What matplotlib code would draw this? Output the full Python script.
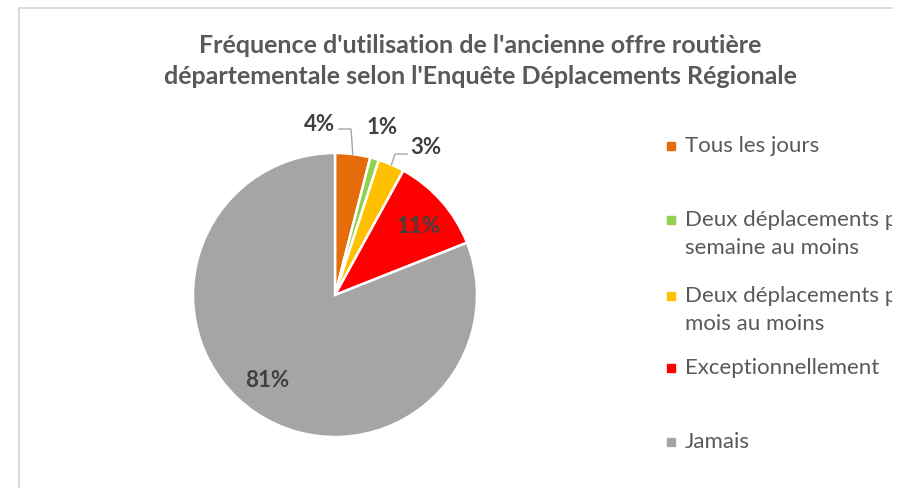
import numpy as np
import matplotlib
matplotlib.use("Agg")
import matplotlib.pyplot as plt
from matplotlib.lines import Line2D

plt.rcParams['font.family'] = ['Lato', 'DejaVu Sans']

# survey shares (%)
categories = ["Tous les jours",
              "Deux déplacements par\nsemaine au moins",
              "Deux déplacements par\nmois au moins",
              "Exceptionnellement",
              "Jamais"]
shares = [4, 1, 3, 11, 81]
colors = ["#E46C0A", "#92D050", "#FFC000", "#FF0000", "#A5A5A5"]
title = ("Fréquence d'utilisation de l'ancienne offre routière\n"
         "départementale selon l'Enquête Déplacements Régionale")

W, H = 906, 488
fig = plt.figure(figsize=(W / 100, H / 100), dpi=100)

# chart frame (left and top edges only, the rest is cropped)
fig.add_artist(Line2D([19 / W, 19 / W], [0, 1 - 8 / H], color="#D9D9D9", lw=1.3))
fig.add_artist(Line2D([19 / W, 892 / W], [1 - 8 / H, 1 - 8 / H], color="#D9D9D9", lw=1.3))

fig.text(480 / W, 1 - 61 / H, title, ha="center", va="center", fontsize=18,
         fontweight="bold", color="#595959", linespacing=1.4)

# pie
cx, cy, r = 335, 295, 142
ax = fig.add_axes([(cx - r) / W, (H - cy - r) / H, 2 * r / W, 2 * r / H])
wedges, _ = ax.pie(shares, colors=colors, startangle=90, counterclock=False,
                   radius=1, wedgeprops=dict(edgecolor="white", linewidth=1.8))
ax.set_xlim(-1, 1)
ax.set_ylim(-1, 1)
ax.set_aspect("equal")
ax.axis("off")

# label placement (data units) and leader elbows
label_pos = [(-0.11, 1.20), (0.33, 1.18), (0.64, 1.04), (0.59, 0.48), (-0.48, -0.60)]
leaders = {0: [(0.028, 1.169), (0.113, 1.169)],
           2: [(0.507, 0.993), (0.423, 0.993)]}

for i, (val, (lx, ly)) in enumerate(zip(shares, label_pos)):
    ax.text(lx, ly, f"{val}%", ha="center", va="center", fontsize=16,
            fontweight="bold", color="#404040", clip_on=False)
    if i in leaders:
        w = wedges[i]
        mid = np.deg2rad((w.theta1 + w.theta2) / 2)
        pts = leaders[i] + [(np.cos(mid), np.sin(mid))]
        xs, ys = zip(*pts)
        ax.plot(xs, ys, color="#A6A6A6", lw=1.0, clip_on=False)

# legend, clipped at the chart's right edge
lax = fig.add_axes([660 / W, 0, (892 - 660) / W, 1])
lax.set_xlim(660, 892)
lax.set_ylim(H, 0)
lax.axis("off")
leg_y = [146, 220, 296, 368, 442]
for lab, col, y in zip(categories, colors, leg_y):
    lax.add_patch(plt.Rectangle((667, y - 4), 8, 8, color=col, clip_on=True))
    for k, line in enumerate(lab.split("\n")):
        lax.text(685, y + 28 * k, line, ha="left", va="center", fontsize=16,
                 color="#595959", clip_on=True)

fig.savefig("out.png", dpi=100)
